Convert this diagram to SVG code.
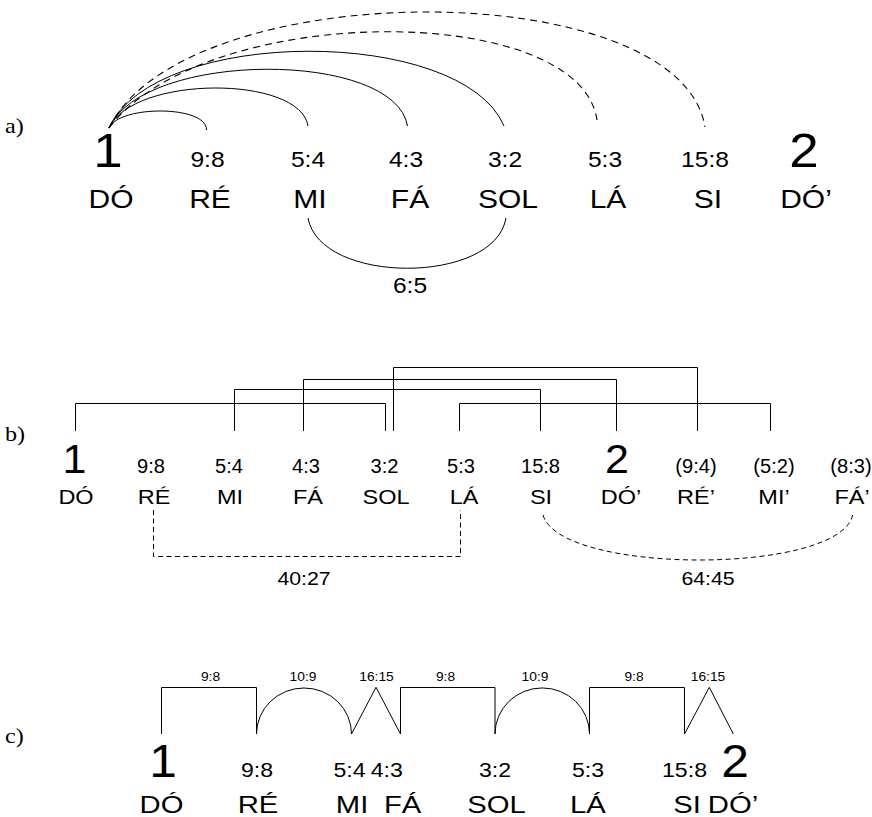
<svg xmlns="http://www.w3.org/2000/svg" width="872" height="817" viewBox="0 0 872 817">
  <defs>
    <style>
      text { font-family: "Liberation Sans", Arial, sans-serif; fill: #000; text-anchor: middle; }
      .lab { font-family: "Liberation Serif", "Times New Roman", serif; text-anchor: start; font-size: 22px; }
      .nameA { font-size: 25px; }
      .ratA { font-size: 22px; }
      .bigA { font-size: 49px; }
      .nameB { font-size: 21px; }
      .ratB { font-size: 19.5px; }
      .bigB { font-size: 41px; }
      .ivB { font-size: 19px; }
      .stepC { font-size: 12px; }
      .ratC { font-size: 21px; }
      .bigC { font-size: 46px; }
      .nameC { font-size: 24px; }
      .ln { fill: none; stroke: #000; stroke-width: 1; }
      .dashA { fill: none; stroke: #000; stroke-width: 1.1; stroke-dasharray: 7 5; }
      .dashB { fill: none; stroke: #000; stroke-width: 1; stroke-dasharray: 5 3.5; }
    </style>
  </defs>
  <rect width="872" height="817" fill="#fff"/>

  <!-- Part a: just intervals measured from the tonic -->
  <text class="lab" transform="translate(5,133) scale(1.1,1)">a)</text>
  <g id="a-notes">
    <g id="a-do"><text class="bigA" transform="translate(108,167) scale(1.08,1)">1</text><text class="nameA" transform="translate(111,208) scale(1.2,1)">DÓ</text></g>
    <g id="a-re"><text class="ratA" transform="translate(207.5,167) scale(1.12,1)">9:8</text><text class="nameA" transform="translate(210,208) scale(1.2,1)">RÉ</text></g>
    <g id="a-mi"><text class="ratA" transform="translate(308,167) scale(1.12,1)">5:4</text><text class="nameA" transform="translate(310,208) scale(1.2,1)">MI</text></g>
    <g id="a-fa"><text class="ratA" transform="translate(406,167) scale(1.12,1)">4:3</text><text class="nameA" transform="translate(410,208) scale(1.2,1)">FÁ</text></g>
    <g id="a-sol"><text class="ratA" transform="translate(505,167) scale(1.12,1)">3:2</text><text class="nameA" transform="translate(508,208) scale(1.2,1)">SOL</text></g>
    <g id="a-la"><text class="ratA" transform="translate(605,167) scale(1.12,1)">5:3</text><text class="nameA" transform="translate(608,208) scale(1.2,1)">LÁ</text></g>
    <g id="a-si"><text class="ratA" transform="translate(705,167) scale(1.12,1)">15:8</text><text class="nameA" transform="translate(708,208) scale(1.2,1)">SI</text></g>
    <g id="a-do2"><text class="bigA" transform="translate(804,167) scale(1.08,1)">2</text><text class="nameA" transform="translate(806,208) scale(1.2,1)">DÓ’</text></g>
    <text class="ratA" transform="translate(410,293) scale(1.12,1)">6:5</text>
  </g>
  <g id="a-connectors">
    <path class="ln" d="M109,128 C119,105 207,105 206.5,130"/>
    <path class="ln" d="M109,128 C133,75 300,75 308,126"/>
    <path class="ln" d="M109,128 C144,50 395,50 407.5,126"/>
    <path class="ln" d="M109,128 C155,26 462,26 504,126"/>
    <path class="dashA" d="M109,128 C205,1 580,1 597,120"/>
    <path class="dashA" d="M109,128 C185,-26.5 680,-26.5 705,127"/>
    <path class="ln" d="M308,218 C320,285 495,285 506,218"/>
  </g>

  <!-- Part b: fifths and fourths across the octave -->
  <text class="lab" transform="translate(5,441) scale(1.1,1)">b)</text>
  <g id="b-notes">
    <g id="b-do"><text class="bigB" transform="translate(74.5,473) scale(1.05,1)">1</text><text class="nameB" transform="translate(76,504) scale(1.12,1)">DÓ</text></g>
    <g id="b-re"><text class="ratB" transform="translate(151,473) scale(1.03,1)">9:8</text><text class="nameB" transform="translate(154,504) scale(1.12,1)">RÉ</text></g>
    <g id="b-mi"><text class="ratB" transform="translate(229,473) scale(1.03,1)">5:4</text><text class="nameB" transform="translate(230,504) scale(1.12,1)">MI</text></g>
    <g id="b-fa"><text class="ratB" transform="translate(306,473) scale(1.03,1)">4:3</text><text class="nameB" transform="translate(308,504) scale(1.12,1)">FÁ</text></g>
    <g id="b-sol"><text class="ratB" transform="translate(384.5,473) scale(1.03,1)">3:2</text><text class="nameB" transform="translate(386,504) scale(1.12,1)">SOL</text></g>
    <g id="b-la"><text class="ratB" transform="translate(461,473) scale(1.03,1)">5:3</text><text class="nameB" transform="translate(464,504) scale(1.12,1)">LÁ</text></g>
    <g id="b-si"><text class="ratB" transform="translate(540.5,473) scale(1.03,1)">15:8</text><text class="nameB" transform="translate(541,504) scale(1.12,1)">SI</text></g>
    <g id="b-do2"><text class="bigB" transform="translate(617,473) scale(1.05,1)">2</text><text class="nameB" transform="translate(621,504) scale(1.12,1)">DÓ’</text></g>
    <g id="b-re2"><text class="ratB" transform="translate(696,473) scale(1.03,1)">(9:4)</text><text class="nameB" transform="translate(696,504) scale(1.12,1)">RÉ’</text></g>
    <g id="b-mi2"><text class="ratB" transform="translate(774,473) scale(1.03,1)">(5:2)</text><text class="nameB" transform="translate(774,504) scale(1.12,1)">MI’</text></g>
    <g id="b-fa2"><text class="ratB" transform="translate(851,473) scale(1.03,1)">(8:3)</text><text class="nameB" transform="translate(852,504) scale(1.12,1)">FÁ’</text></g>
    <text class="ivB" transform="translate(304,585) scale(1.12,1)">40:27</text>
    <text class="ivB" transform="translate(708,585) scale(1.12,1)">64:45</text>
  </g>
  <g id="b-connectors">
    <path class="ln" d="M75.5,431 V403.5 H385.5 V431"/>
    <path class="ln" d="M234.5,431 V389.5 H540.5 V431"/>
    <path class="ln" d="M303.5,431 V379.5 H616.5 V431"/>
    <path class="ln" d="M393.5,431 V367.5 H697.5 V431"/>
    <path class="ln" d="M459.5,431 V403.5 H770.5 V431"/>
    <path class="dashB" d="M153.5,510 V556.5 H460.5 V510"/>
    <path class="dashB" d="M543,515 C560,575 840,575 852.6,515"/>
  </g>

  <!-- Part c: successive steps of the scale -->
  <text class="lab" transform="translate(5,743) scale(1.1,1)">c)</text>
  <g id="c-notes">
    <g id="c-do"><text class="bigC" transform="translate(163,777) scale(1.08,1)">1</text><text class="nameC" transform="translate(161.5,813) scale(1.22,1)">DÓ</text></g>
    <g id="c-re"><text class="ratC" transform="translate(257,777) scale(1.1,1)">9:8</text><text class="nameC" transform="translate(258,813) scale(1.22,1)">RÉ</text></g>
    <g id="c-mi"><text class="ratC" transform="translate(349.5,777) scale(1.1,1)">5:4</text><text class="nameC" transform="translate(352,813) scale(1.22,1)">MI</text></g>
    <g id="c-fa"><text class="ratC" transform="translate(386.7,777) scale(1.1,1)">4:3</text><text class="nameC" transform="translate(402.6,813) scale(1.22,1)">FÁ</text></g>
    <g id="c-sol"><text class="ratC" transform="translate(495,777) scale(1.1,1)">3:2</text><text class="nameC" transform="translate(496.6,813) scale(1.22,1)">SOL</text></g>
    <g id="c-la"><text class="ratC" transform="translate(588,777) scale(1.1,1)">5:3</text><text class="nameC" transform="translate(588,813) scale(1.22,1)">LÁ</text></g>
    <g id="c-si"><text class="ratC" transform="translate(684.5,777) scale(1.1,1)">15:8</text><text class="nameC" transform="translate(687,813) scale(1.22,1)">SI</text></g>
    <g id="c-do2"><text class="bigC" transform="translate(735,777) scale(1.08,1)">2</text><text class="nameC" transform="translate(733,813) scale(1.22,1)">DÓ’</text></g>
    <text class="stepC" transform="translate(210.5,681) scale(1.15,1)">9:8</text>
    <text class="stepC" transform="translate(303,681) scale(1.15,1)">10:9</text>
    <text class="stepC" transform="translate(376.5,681) scale(1.15,1)">16:15</text>
    <text class="stepC" transform="translate(445.5,681) scale(1.15,1)">9:8</text>
    <text class="stepC" transform="translate(535,681) scale(1.15,1)">10:9</text>
    <text class="stepC" transform="translate(634,681) scale(1.15,1)">9:8</text>
    <text class="stepC" transform="translate(708,681) scale(1.15,1)">16:15</text>
  </g>
  <g id="c-connectors">
    <path class="ln" d="M161.5,734 V687.5 H256.5 V734 A47.5,46 0 0 1 351.5,734 L376,687.3 L400.5,734 V687.5 H495 V734 A47.2,46 0 0 1 589.5,734 V687.5 H684.5 V734 L709.3,687.3 L733.3,734"/>
  </g>
</svg>
